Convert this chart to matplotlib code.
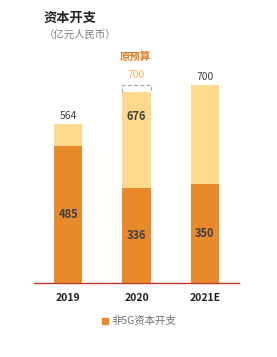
import matplotlib
matplotlib.use('Agg')
import matplotlib.pyplot as plt

plt.rcParams['font.family'] = ['Noto Sans CJK SC', 'DejaVu Sans']

# 数据
years = ['2019', '2020', '2021E']
non5g = [485, 336, 350]
total = [564, 676, 700]
budget_2020 = 700

dark = '#E8892B'
light = '#FCD98C'
txt = '#404040'
w = 0.41

fig = plt.figure(figsize=(2.77, 3.57), dpi=100)
ax = fig.add_axes([34 / 277, 74 / 357, 205 / 277, 226 / 357])

x = list(range(len(years)))
rest = [t - n for t, n in zip(total, non5g)]
ax.bar(x, non5g, width=w, color=dark, zorder=2)
ax.bar(x, rest, bottom=non5g, width=w, color=light, zorder=2)

# 原预算虚线框
ls = (0, (3, 2))
ax.plot([1 - w / 2, 1 - w / 2, 1 + w / 2, 1 + w / 2],
        [total[1], budget_2020, budget_2020, total[1]],
        color='#a8a8a8', linestyle=ls, linewidth=0.9, zorder=3)

for i in x:
    ax.text(i, non5g[i] / 2, str(non5g[i]), ha='center', va='center',
            fontsize=8, fontweight='bold', color=txt, zorder=4)
ax.text(0, total[0] + 10, str(total[0]), ha='center', va='bottom', fontsize=7.5, color=txt)
ax.text(1, total[1] - 85, str(total[1]), ha='center', va='center',
        fontsize=8, fontweight='bold', color=txt, zorder=4)
ax.text(2, total[2] + 10, str(total[2]), ha='center', va='bottom', fontsize=7.5, color=txt)
ax.text(1, budget_2020 + 20, str(budget_2020), ha='center', va='bottom',
        fontsize=7.5, color='#F2AE60')

ax.set_xlim(-0.5, 2.5)
ax.set_ylim(0, 800)
for s in ['top', 'right', 'left']:
    ax.spines[s].set_visible(False)
ax.spines['bottom'].set_color('#C0392B')
ax.spines['bottom'].set_linewidth(1.0)
ax.set_yticks([])
ax.set_xticks(x)
ax.set_xticklabels(years, fontsize=7.5, fontweight='bold', color='#222222')
ax.tick_params(axis='x', length=0, pad=7)

fig.text(70 / 277, 1 - 18 / 357, '资本开支', ha='center', va='center',
         fontsize=9.5, fontweight='bold', color='#222222')
fig.text(80 / 277, 1 - 35 / 357, '（亿元人民币）', ha='center', va='center',
         fontsize=7.5, style='italic', color='#808080')
fig.text(135 / 277, 1 - 57 / 357, '原预算', ha='center', va='center',
         fontsize=7.5, fontweight='bold', color='#E07B20')

# 图例
fig.patches.append(plt.Rectangle((102 / 277, 1 - 324 / 357), 6 / 277, 6 / 357,
                                 transform=fig.transFigure, color=dark))
fig.text(111 / 277, 1 - 321 / 357, '非5G资本开支', ha='left', va='center',
         fontsize=7.5, color='#707070')

fig.savefig('out.png', dpi=100)
